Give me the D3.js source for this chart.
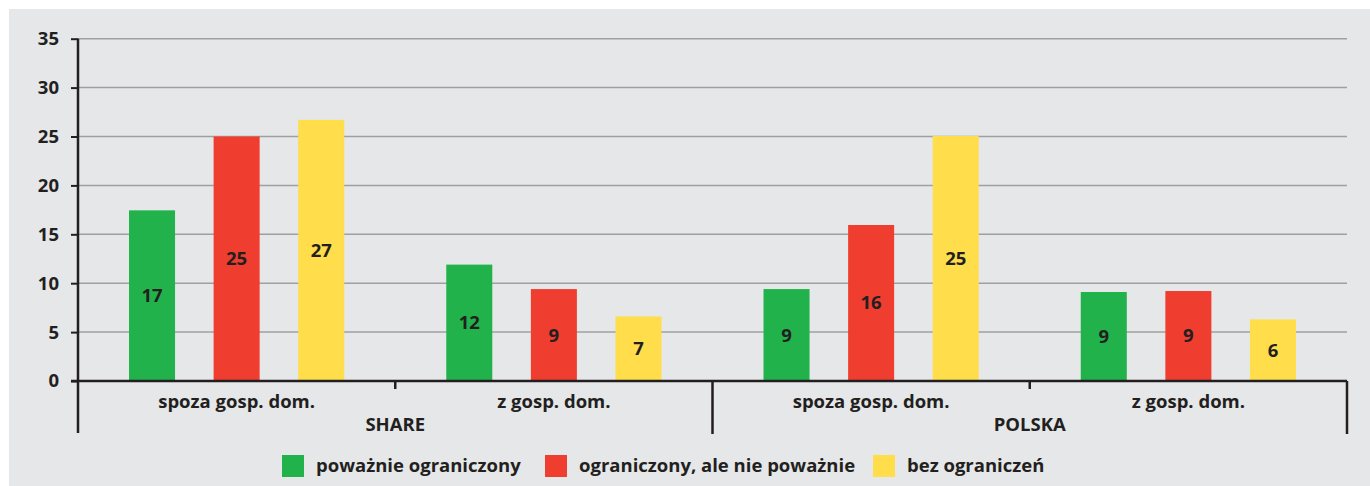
<!DOCTYPE html>
<html><head><meta charset="utf-8">
<script src="https://cdn.jsdelivr.net/npm/d3@7"></script>
<style>
html,body{margin:0;padding:0;background:#fff;}
svg text{font-family:"Open Sans",sans-serif;fill:#231f20;}
</style></head>
<body><svg id="c" width="1370" height="486"></svg>
<script>
const groups = ["SHARE", "POLSKA"];
const categories = ["spoza gosp. dom.", "z gosp. dom.", "spoza gosp. dom.", "z gosp. dom."];
const categoryGroup = ["SHARE", "SHARE", "POLSKA", "POLSKA"];
const seriesNames = ["poważnie ograniczony", "ograniczony, ale nie poważnie", "bez ograniczeń"];
const seriesColors = ["#22b24c", "#ef3e2f", "#ffdd4b"];
const powaznie = [17.45, 11.9, 9.4, 9.1];
const ograniczony = [25.0, 9.4, 15.95, 9.2];
const bez = [26.7, 6.6, 25.05, 6.3];
const yTicks = [0, 5, 10, 15, 20, 25, 30, 35];
const seriesValues = [powaznie, ograniczony, bez];

const FS = 18.5;
const svg = d3.select("#c");
svg.append("rect").attr("x", 9).attr("y", 9).attr("width", 1361).attr("height", 477).attr("fill", "#e6e7e8");

const mLeft = 78, mRight = 1347, mTop = 38.7, mBottom = 381;
const keys = categories.map((c, i) => i);
const x0 = d3.scaleBand().domain(keys).range([mLeft, mRight]).padding(0);
const x1 = d3.scaleBand().domain(d3.range(3)).range([0, x0.bandwidth()]).paddingInner(0.456).paddingOuter(0.603);
const y = d3.scaleLinear().domain([0, 35]).range([mBottom, mTop]);

// grid
svg.append("g").selectAll("line").data(yTicks.filter(d => d > 0)).join("line")
  .attr("x1", mLeft).attr("x2", mRight).attr("y1", d => y(d)).attr("y2", d => y(d))
  .attr("stroke", "#a0a0a0").attr("stroke-width", 1.5);

// y axis
const yAxis = d3.axisLeft(y).tickValues(yTicks).tickSize(7).tickPadding(12);
const ga = svg.append("g").attr("transform", `translate(${mLeft},0)`).call(yAxis);
ga.select(".domain").remove();
ga.selectAll(".tick line").attr("stroke", "#231f20").attr("stroke-width", 2);
ga.selectAll(".tick text").attr("font-size", FS).attr("font-weight", 700).attr("fill", "#231f20")
  .attr("font-family", "'Open Sans',sans-serif");

// bars
const rows = [];
keys.forEach(k => seriesValues.forEach((arr, s) => rows.push({k, s, v: arr[k]})));
svg.append("g").selectAll("rect").data(rows).join("rect")
  .attr("x", d => x0(d.k) + x1(d.s)).attr("width", x1.bandwidth())
  .attr("y", d => y(d.v)).attr("height", d => y(0) - y(d.v))
  .attr("fill", d => seriesColors[d.s]);
svg.append("g").selectAll("text").data(rows).join("text")
  .attr("x", d => x0(d.k) + x1(d.s) + x1.bandwidth() / 2)
  .attr("y", d => y(d.v / 2)).attr("dy", "0.35em")
  .attr("text-anchor", "middle").attr("font-size", FS).attr("font-weight", 700)
  .text(d => Math.round(d.v));

// axes lines
svg.append("line").attr("x1", mLeft).attr("x2", mLeft).attr("y1", mTop).attr("y2", 433)
  .attr("stroke", "#231f20").attr("stroke-width", 2.5);
svg.append("line").attr("x1", mLeft - 7).attr("x2", mRight).attr("y1", mBottom).attr("y2", mBottom)
  .attr("stroke", "#231f20").attr("stroke-width", 2.5);

// category separators
keys.forEach((k, i) => {
  const xe = x0(k) + x0.bandwidth();
  const isGroupEnd = i === keys.length - 1 || categoryGroup[i] !== categoryGroup[i + 1];
  svg.append("line").attr("x1", xe).attr("x2", xe).attr("y1", mBottom).attr("y2", isGroupEnd ? 434 : 389)
    .attr("stroke", "#231f20").attr("stroke-width", 2.5);
});

// category labels
svg.append("g").selectAll("text").data(keys).join("text")
  .attr("x", k => x0(k) + x0.bandwidth() / 2).attr("y", 402).attr("dy", "0.35em")
  .attr("text-anchor", "middle").attr("font-size", FS).attr("font-weight", 700)
  .text(k => categories[k]);

// group labels
groups.forEach(g => {
  const ks = keys.filter(k => categoryGroup[k] === g);
  const x = (x0(ks[0]) + x0(ks[ks.length - 1]) + x0.bandwidth()) / 2;
  svg.append("text").attr("x", x).attr("y", 425).attr("dy", "0.35em")
    .attr("text-anchor", "middle").attr("font-size", FS).attr("font-weight", 700).text(g);
});

// legend
const legX = [282, 545, 873];
seriesNames.forEach((n, i) => {
  svg.append("rect").attr("x", legX[i]).attr("y", 455).attr("width", 22).attr("height", 22).attr("fill", seriesColors[i]);
  svg.append("text").attr("x", legX[i] + 34).attr("y", 466).attr("dy", "0.35em")
    .attr("font-size", FS).attr("font-weight", 700).text(n);
});
</script></body></html>
